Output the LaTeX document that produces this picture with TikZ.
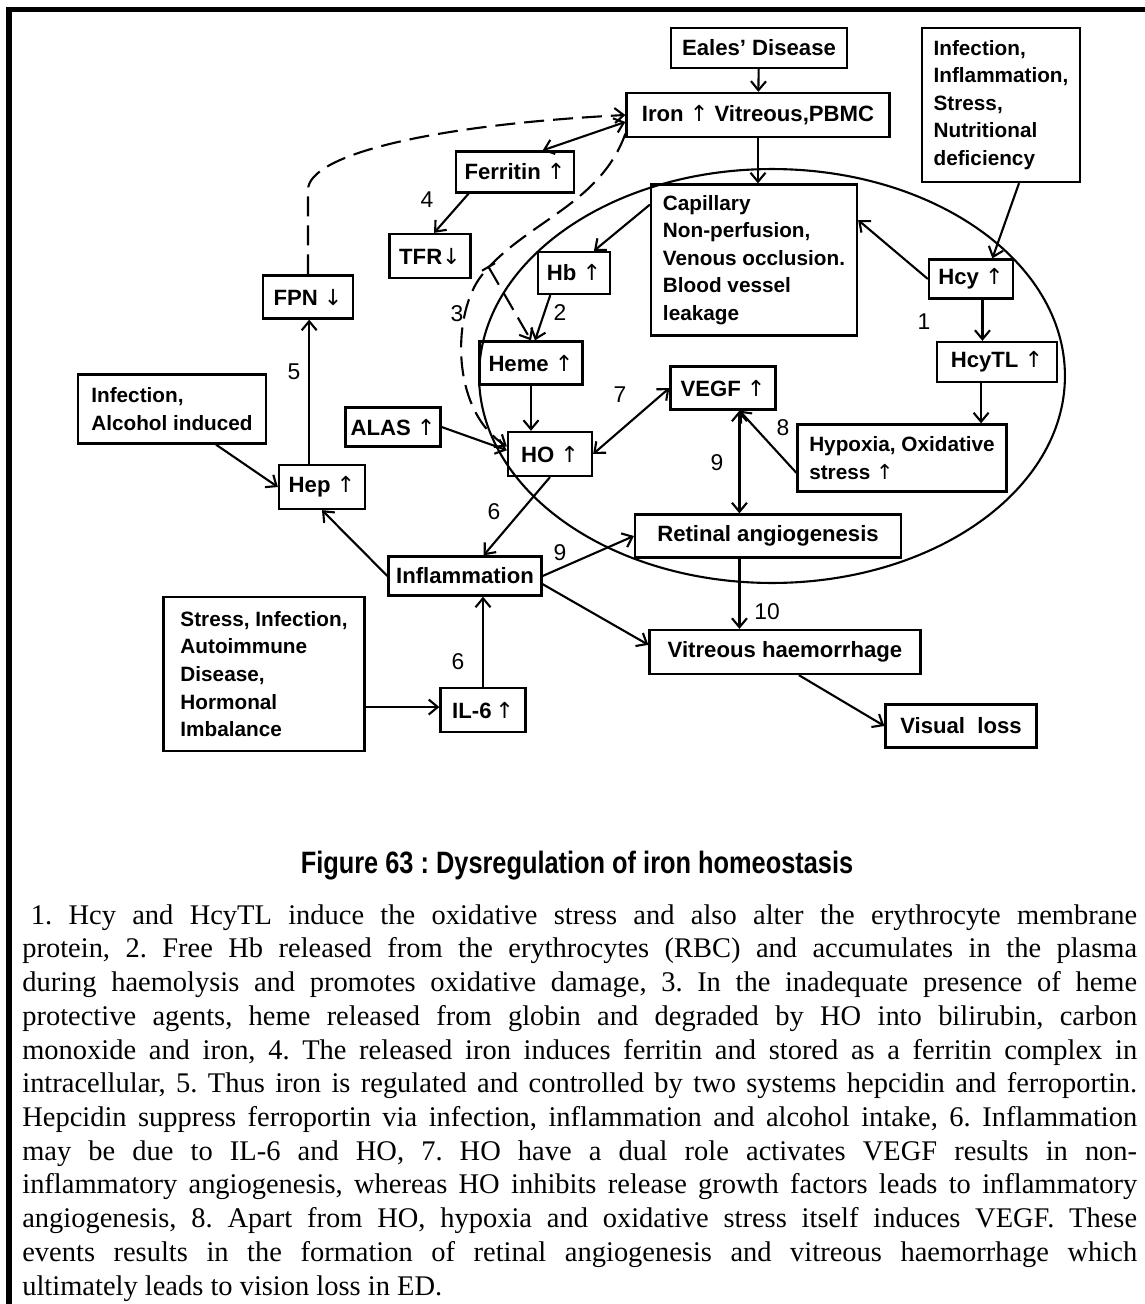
\documentclass[tikz,border=0pt]{standalone}
\usepackage{fontspec}
\setmainfont{Liberation Serif}
\newfontfamily\diagfont{Liberation Sans}
\newfontfamily\arrowfont{DejaVu Sans}
\newfontfamily\titlefont[FakeStretch=0.82]{Liberation Sans}
\usetikzlibrary{arrows.meta}
\newcommand{\upa}{{\arrowfont\mdseries ↑}}
\newcommand{\dna}{{\arrowfont\mdseries ↓}}
\tolerance=10000
\hbadness=10000
\hyphenpenalty=10000
\frenchspacing

\begin{document}
\begin{tikzpicture}[x=0.02cm, y=-0.02cm,
    box/.style={draw, line width=1.3pt, inner sep=0pt, font=\diagfont\bfseries\fontsize{12.6}{15.7}\selectfont},
    tbox/.style={box, align=left, font=\diagfont\bfseries\fontsize{11.8}{15.7}\selectfont},
    num/.style={inner sep=0pt, font=\diagfont\fontsize{13}{15}\selectfont},
    link/.style={line width=1.2pt, -{Straight Barb[length=1.8mm,width=3mm]}},
    dlink/.style={link, {Straight Barb[length=1.8mm,width=3mm]}-{Straight Barb[length=1.8mm,width=3mm]}},
    dashlink/.style={link, dash pattern=on 4mm off 1.8mm}]
      \useasboundingbox (0,0) rectangle (1145,1304);
      \draw[line width=3.4pt] (9,1304) -- (9,9.5) -- (1145,9.5);
      \draw[line width=1.2pt] (772,376) ellipse [x radius=5.86cm, y radius=4.14cm];

      \node (eales) [box, minimum width=3.52cm, minimum height=0.80cm] at (759,48) {Eales’ Disease};
      \node (iron) [box, minimum width=5.26cm, minimum height=0.88cm] at (758,115) {Iron \upa{} Vitreous,PBMC};
      \node (infr) [tbox, minimum width=3.16cm, minimum height=3.08cm] at (1001,105)
            {Infection,\\Inflammation,\\Stress,\\Nutritional\\deficiency};
      \node (ferritin) [box, minimum width=2.36cm, minimum height=0.82cm] at (515,172) {Ferritin \upa};
      \node (tfr) [box, minimum width=1.62cm, minimum height=0.88cm] at (430,256) {TFR\dna};
      \node (fpn) [box, minimum width=1.80cm, minimum height=0.86cm] at (308,297) {FPN \dna};
      \node (hb) [box, minimum width=1.44cm, minimum height=0.84cm] at (574,273) {Hb \upa};
      \node (cap) [tbox, minimum width=4.12cm, minimum height=3.02cm] at (754,260)
            {Capillary\\Non-perfusion,\\Venous occlusion.\\Blood vessel\\leakage};
      \node (hcy) [box, minimum width=1.68cm, minimum height=0.78cm] at (971,279) {Hcy \upa};
      \node (hcytl) [box, minimum width=2.40cm, minimum height=0.80cm] at (997,362) {HcyTL \upa};
      \node (heme) [box, minimum width=2.06cm, minimum height=0.86cm] at (531,363) {Heme \upa};
      \node (vegf) [box, minimum width=2.10cm, minimum height=0.86cm] at (723,388) {VEGF \upa};
      \node (infl) [tbox, minimum width=3.76cm, minimum height=1.38cm] at (172,409)
            {Infection,\\Alcohol induced};
      \node (alas) [box, minimum width=1.90cm, minimum height=0.78cm] at (393,427) {ALAS \upa};
      \node (ho) [box, minimum width=1.68cm, minimum height=0.88cm] at (550,454) {HO \upa};
      \node (hypox) [tbox, minimum width=4.18cm, minimum height=1.34cm] at (902,458)
            {Hypoxia, Oxidative\\stress \upa};
      \node (hep) [box, minimum width=1.72cm, minimum height=0.88cm] at (322,487) {Hep \upa};
      \node (retinal) [box, minimum width=5.32cm, minimum height=0.86cm] at (768,536) {Retinal angiogenesis};
      \node (inflam) [box, minimum width=3.06cm, minimum height=0.78cm] at (465,576) {Inflammation};
      \node (stress) [tbox, minimum width=4.02cm, minimum height=3.08cm] at (264,674)
            {Stress, Infection,\\Autoimmune\\Disease,\\Hormonal\\Imbalance};
      \node (il6) [box, minimum width=1.70cm, minimum height=0.88cm] at (483,710) {IL-6\,\upa};
      \node (vh) [box, minimum width=5.42cm, minimum height=0.88cm] at (785,652) {Vitreous haemorrhage};
      \node (visual) [box, minimum width=3.02cm, minimum height=0.86cm] at (961,726) {Visual\ \ loss};

      \draw[link] (eales) -- (iron);
      \draw[link] (iron.south) -- (iron.south |- cap.north);
      \draw[dlink] (ferritin.38) -- (iron.183);
      \draw[link] (ferritin.205) -- (tfr.80);
      \draw[link] (cap.152) -- (hb.48);
      \draw[link] (hcy.west) -- (cap.21);
      \draw[link] (infr.283) -- (hcy.44);
      \draw[link] (hcy.-61) -- (hcy.-61 |- hcytl.north);
      \draw[link] (hcytl.233) -- (hcytl.233 |- hypox.north);
      \draw[link] (hypox.188) -- (vegf.-54);
      \draw[dlink] (vegf.-54) -- (vegf.-54 |- retinal.north);
      \draw[dlink] (ho.east) -- (vegf.west);
      \draw[link] (alas.east) -- (ho.175);
      \draw[link] (heme.south) -- (heme.south |- ho.north);
      \draw[link] (hb.223) -- (heme.80);
      \draw[link] (ho.south) -- (inflam.48);
      \draw[link] (inflam.west) -- (hep.south);
      \draw[link] (infl.-39) -- (hep.west);
      \draw[link] (hep.119) -- (hep.119 |- fpn.south);
      \draw[link] (il6.north) -- (il6.north |- inflam.south);
      \draw[link] (stress.-18) -- (stress.-18 -| il6.west);
      \draw[link] (inflam.east) -- (retinal.west);
      \draw[link] (inflam.-6) -- (vh.177);
      \draw[link] (vegf.-54 |- retinal.south) -- (vegf.-54 |- vh.north);
      \draw[link] (vh.-59) -- (visual.west);

      \coordinate (fpnbend) at (308,190);
      \coordinate (hemebr) at (482,275);
      \coordinate (barpt) at (488,266);
      \draw[dashlink] (fpn.north) -- (fpnbend) .. controls (308,155) and (430,125) .. (iron.west);
      \draw[dashlink] (iron.188) .. controls (600,205) and (525,222) .. (hemebr)
            .. controls (452,312) and (450,410) .. (ho.170);
      \draw[dashlink, {Bar[width=3mm]}-{Straight Barb[length=1.8mm,width=3mm]}] (barpt) -- (heme.north);

      \node (n1) [num] at (924,322) {1};
      \node (n2) [num] at (560,313) {2};
      \node (n3) [num] at (457,314) {3};
      \node (n4) [num] at (427,200) {4};
      \node (n5) [num] at (294,372) {5};
      \node (n6a) [num] at (494,512) {6};
      \node (n6b) [num] at (458,662) {6};
      \node (n7) [num] at (620,395) {7};
      \node (n8) [num] at (783,428) {8};
      \node (n9a) [num] at (717,463) {9};
      \node (n9b) [num] at (560,553) {9};
      \node (n10) [num] at (767,612) {10};

      \node (title) [anchor=base, inner sep=0pt, font=\titlefont\bfseries\fontsize{17.6}{20}\selectfont]
            at (577,873) {Figure 63 : Dysregulation of iron homeostasis};
      \node (notes) [anchor=north west, inner sep=0pt, text width=22.3cm, align=justify,
            font=\fontsize{16.2}{19.2}\selectfont] at (22,904)
            {\hspace*{0.3em}1. Hcy and HcyTL induce the oxidative stress and also alter the erythrocyte membrane\linebreak
             protein, 2. Free Hb released from the erythrocytes (RBC) and accumulates in the plasma\linebreak
             during haemolysis and promotes oxidative damage, 3. In the inadequate presence of heme\linebreak
             protective agents, heme released from globin and degraded by HO into bilirubin, carbon\linebreak
             monoxide and iron, 4. The released iron induces ferritin and stored as a ferritin complex in\linebreak
             intracellular, 5. Thus iron is regulated and controlled by two systems hepcidin and ferroportin.\linebreak
             Hepcidin suppress ferroportin via infection, inflammation and alcohol intake, 6. Inflammation\linebreak
             may be due to IL-6 and HO, 7. HO have a dual role activates VEGF results in non-\linebreak
             inflammatory angiogenesis, whereas HO inhibits release growth factors leads to inflammatory\linebreak
             angiogenesis, 8. Apart from HO, hypoxia and oxidative stress itself induces VEGF. These\linebreak
             events results in the formation of retinal angiogenesis and vitreous haemorrhage which\linebreak
             ultimately leads to vision loss in ED.};
\end{tikzpicture}
\end{document}
